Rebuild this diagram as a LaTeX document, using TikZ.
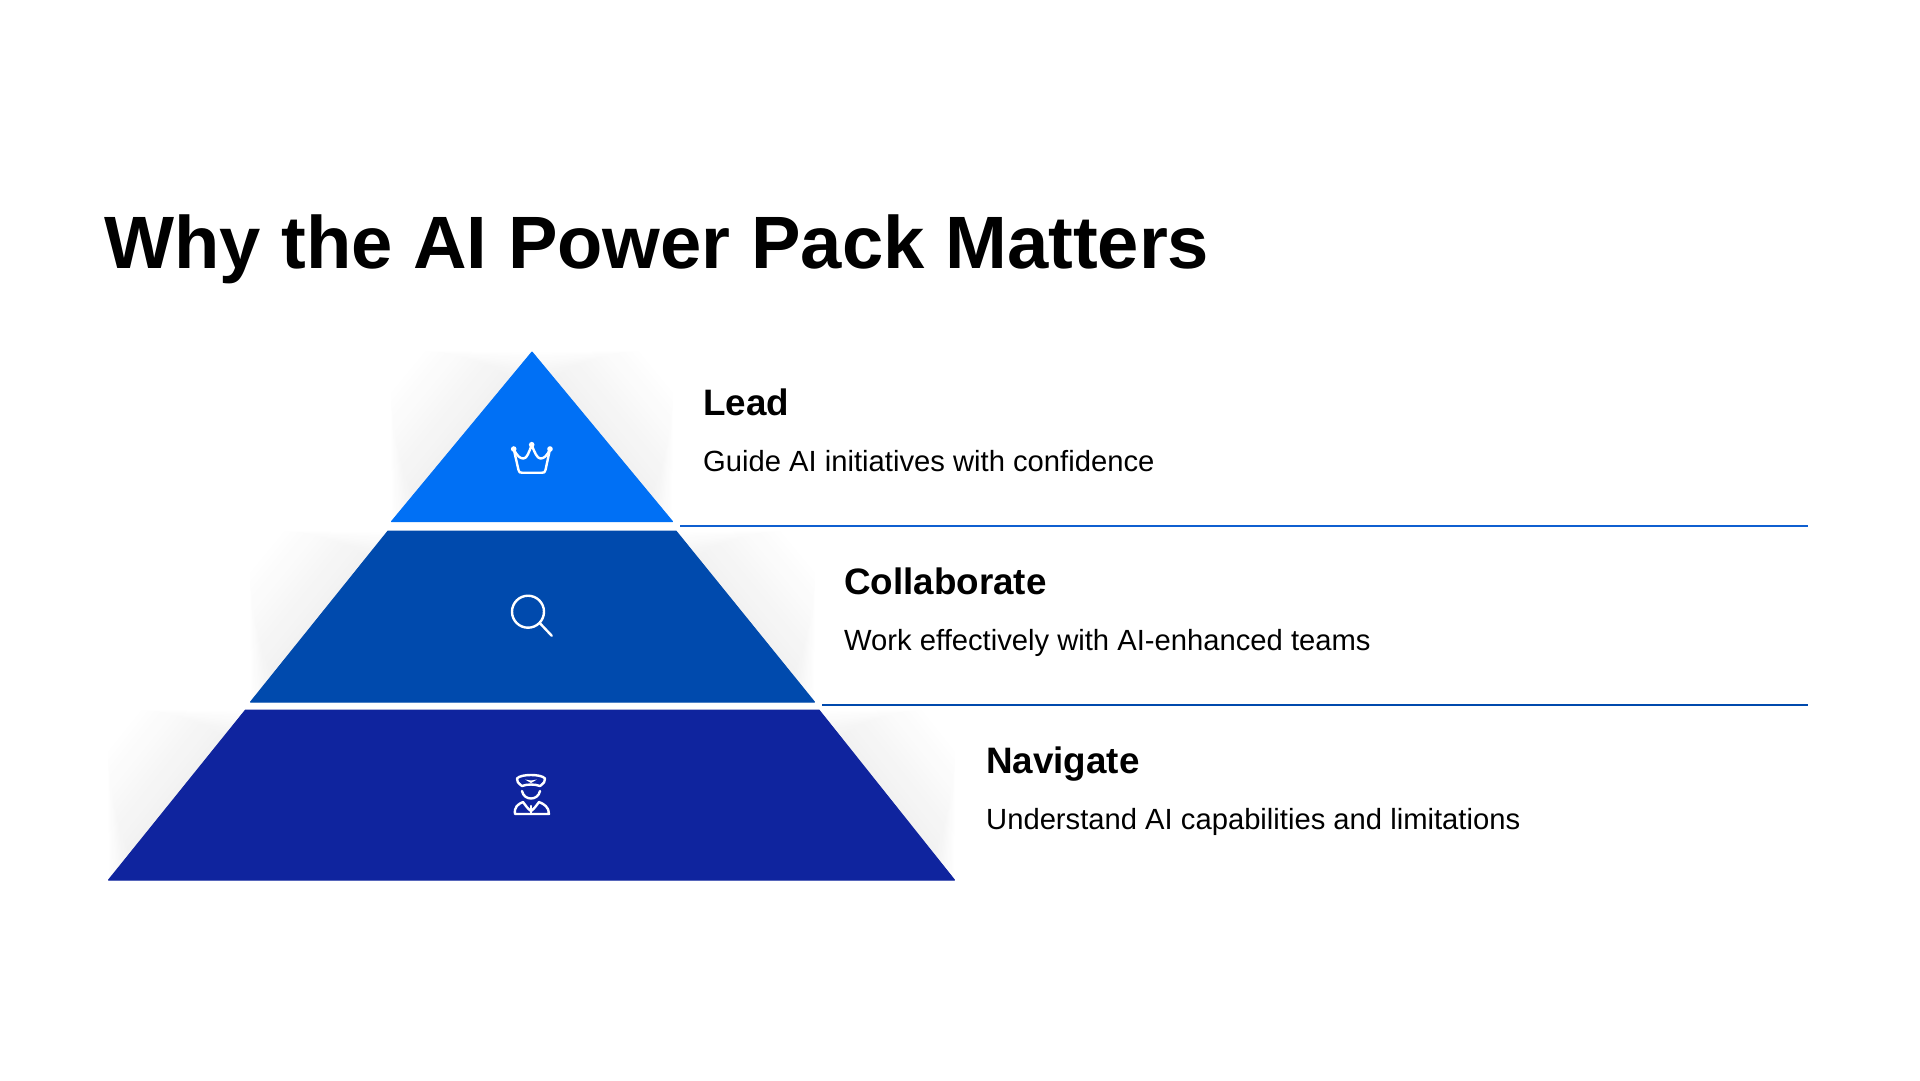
\documentclass[tikz,border=0pt]{standalone}
\usepackage{fontspec}
\setmainfont{Liberation Sans}
\usetikzlibrary{calc}
\definecolor{tierA}{HTML}{0070F5}
\definecolor{tierB}{HTML}{004AAD}
\definecolor{tierC}{HTML}{0F249E}
\definecolor{ruleA}{HTML}{0F5FD0}
\definecolor{ruleB}{HTML}{004AAD}
\definecolor{shadowgray}{HTML}{F1F1F1}
\tikzset{
  tier/.style={line width=1pt,line join=round},
  icon/.style={draw=white,line width=2.4pt,line cap=round,line join=round},
  heading/.style={anchor=base west,inner sep=0pt,font=\fontsize{36.8}{44}\selectfont\bfseries,text=black},
  body/.style={anchor=base west,inner sep=0pt,font=\fontsize{29.2}{35}\selectfont,text=black},
  title/.style={anchor=base west,inner sep=0pt,font=\fontsize{74.2}{89}\selectfont\bfseries,text=black},
  sep/.style={line width=1.8pt}
}
% soft corner shadow, lightest band first: #1 corner, #2 and #3 ends of the sloping edge
\newcommand{\cornershadow}[3]{%
  \foreach \k in {1,...,16}{%
    \pgfmathsetmacro{\dk}{\k/16}%
    \pgfmathsetmacro{\tk}{0.8*(1-\dk)}%
    \pgfmathsetmacro{\ak}{0.16*\dk}%
    \pgfmathsetmacro{\mixv}{100*\dk}%
    \fill[shadowgray!\mixv!white]
      ($#2!\ak!#3$) -- ($#3!\ak!#2$) -- ($($#3!\ak!#2$)!\tk!#1$) -- ($($#2!\ak!#3$)!\tk!#1$) -- cycle;
  }}
\begin{document}
\begin{tikzpicture}[x=1pt,y=-1pt]
\useasboundingbox[fill=white] (0,0) rectangle (1920,1080);
% shadows
\cornershadow{(391,351)}{(391,522)}{(532,351)}
\cornershadow{(673,351)}{(532,351)}{(673,522)}
\cornershadow{(250,531)}{(250,702)}{(391,531)}
\cornershadow{(815,531)}{(673,531)}{(815,702)}
\cornershadow{(108,710)}{(108,880)}{(245,710)}
\cornershadow{(955,710)}{(819,710)}{(955,880)}
% tiers
\filldraw[tier,fill=tierA,draw=tierA] (532,352) -- (672.5,521.5) -- (391.5,521.5) -- cycle;
\coordinate (tierAr) at (680,525.7);
\filldraw[tier,fill=tierB,draw=tierB] (388,531) -- (676,531) -- (814.5,702) -- (250.5,702) -- cycle;
\coordinate (tierBr) at (822,704.7);
\filldraw[tier,fill=tierC,draw=tierC] (245.5,710) -- (819,710) -- (954.5,880) -- (108.5,880) -- cycle;
% rules
\coordinate (ruleAend) at (1808,525.7);
\coordinate (ruleBend) at (1808,704.7);
\draw[sep,draw=ruleA] (tierAr) -- (ruleAend);
\draw[sep,draw=ruleB] (tierBr) -- (ruleBend);
% crown
\draw[icon] (513.7,449) -- (518.5,470) .. controls (519,472.5) and (520,472.7) .. (522,472.7) -- (542,472.7) .. controls (544,472.7) and (545,472.5) .. (545.5,470) -- (550,449);
\draw[icon] (513.7,449) .. controls (517,456) and (520,458.5) .. (523.5,458.5) .. controls (527,458.5) and (529,452) .. (531.7,445) .. controls (534.5,452) and (537,458.5) .. (540.5,458.5) .. controls (544,458.5) and (547,456) .. (550,449);
\fill[white] (513.7,449) circle (2.8) (531.7,444.7) circle (2.8) (550,449) circle (2.8);
% magnifier
\draw[icon] (528,611.7) circle (16);
\draw[icon] (540,623.3) -- (551.7,635.7);
% officer
\draw[icon] (522,786) .. controls (518,783) and (516.5,781) .. (517,778.5) .. controls (519,776) and (525,775) .. (531,775) .. controls (537,775) and (543,776) .. (545,778.5) .. controls (545.5,781) and (544,783) .. (540,786) .. controls (535,784) and (527,784) .. (522,786) -- cycle;
\fill[white] (525,779.5) -- (531,783) -- (537,779.5) -- (531,780.5) -- cycle;
\draw[icon] (522,791) .. controls (523,796) and (527,798.5) .. (531,798.5) .. controls (535,798.5) and (539,796) .. (540,791);
\draw[icon] (515,814) .. controls (514,807) and (518,804) .. (523,802) .. controls (526,806) and (528,809) .. (531,811) .. controls (534,809) and (536,806) .. (539,802) .. controls (544,804) and (549,807) .. (549,814) -- cycle;
\draw[icon] (531,806) -- (531,813);
% text
\node[title] (maintitle) at (104,268) {Why the AI Power Pack Matters};
\node[heading] (leadh) at (703,415) {Lead};
\node[body] (leadb) at (703,471) {Guide AI initiatives with confidence};
\node[heading] (collabh) at (844,594) {Collaborate};
\node[body] (collabb) at (844,650) {Work effectively with AI-enhanced teams};
\node[heading] (navh) at (986,773) {Navigate};
\node[body] (navb) at (986,829) {Understand AI capabilities and limitations};
\end{tikzpicture}
\end{document}
